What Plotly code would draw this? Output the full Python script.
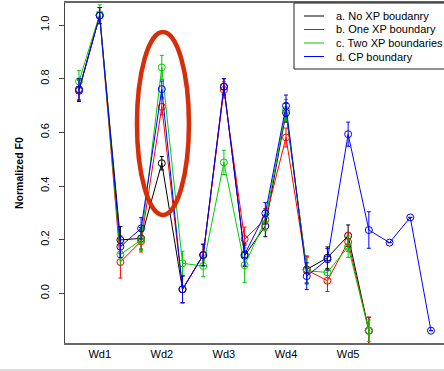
import plotly.graph_objects as go

syll = list(range(1, 19))
word_pos = [2, 5, 8, 11, 14]
word_labels = ["Wd1", "Wd2", "Wd3", "Wd4", "Wd5"]

names = ["a. No XP boudanry", "b. One XP boundary", "c. Two XP boundaries", "d. CP boundary"]
colors = ["#000000", "#ff0000", "#00cd00", "#0000ff"]

no_xp = [0.755, 1.035, 0.199, 0.205, 0.485, 0.015, 0.143, 0.770, 0.140, 0.251, 0.673, 0.089, 0.133, 0.215, -0.139, None, None, None]
no_xp_err = [0.04, 0.03, 0.05, 0.04, 0.025, 0.05, 0.04, 0.03, 0.04, 0.04, 0.035, 0.05, 0.04, 0.04, 0.05, None, None, None]

one_xp = [0.760, 1.035, 0.117, 0.194, 0.695, 0.015, 0.143, 0.758, 0.202, 0.276, 0.581, 0.087, 0.047, 0.192, -0.139, None, None, None]
one_xp_err = [0.04, 0.03, 0.06, 0.04, 0.03, 0.05, 0.04, 0.03, 0.045, 0.04, 0.035, 0.05, 0.04, 0.035, 0.05, None, None, None]

two_xp = [0.790, 1.040, 0.145, 0.199, 0.842, 0.112, 0.102, 0.488, 0.105, 0.273, 0.683, 0.084, 0.078, 0.174, -0.139, None, None, None]
two_xp_err = [0.04, 0.035, 0.04, 0.04, 0.045, 0.045, 0.04, 0.045, 0.065, 0.04, 0.04, 0.05, 0.04, 0.04, 0.04, None, None, None]

cp = [0.760, 1.035, 0.174, 0.242, 0.761, 0.015, 0.143, 0.770, 0.145, 0.298, 0.699, 0.064, 0.127, 0.593, 0.236, 0.189, 0.283, -0.139]
cp_err = [0.04, 0.03, 0.04, 0.04, 0.03, 0.05, 0.04, 0.03, 0.04, 0.04, 0.04, 0.05, 0.04, 0.045, 0.068, None, None, None]

series = [no_xp, one_xp, two_xp, cp]
errors = [no_xp_err, one_xp_err, two_xp_err, cp_err]

W, H = 444, 371
ml, mr, mt, mb = 65, 0, 3, 28
pw = W - ml - mr
ph = H - mt - mb


def px_x(p):
    return (p - ml) / pw


def px_y(p):
    return (H - mb - p) / ph


fig = go.Figure()
for name, col, ys, es in zip(names, colors, series, errors):
    fig.add_trace(go.Scatter(
        x=syll, y=ys, mode="lines+markers", name=name, showlegend=False,
        line=dict(color=col, width=1),
        marker=dict(symbol="circle-open", size=7, color=col, line=dict(width=1, color=col)),
        error_y=dict(type="data", array=es, visible=True, color=col, thickness=1, width=2),
    ))

shapes = [
    dict(type="circle", xref="x", yref="y", x0=3.80, x1=6.31, y0=0.292, y1=0.974,
         line=dict(color="#d62e0a", width=4.5)),
    dict(type="line", xref="paper", yref="paper", x0=px_x(-5), x1=px_x(450),
         y0=px_y(370), y1=px_y(370), line=dict(color="#bbbbbb", width=1)),
    # legend box
    dict(type="rect", xref="paper", yref="paper", x0=px_x(294), x1=px_x(452),
         y0=px_y(69), y1=px_y(3), line=dict(color="#222222", width=1), fillcolor="white", layer="above"),
]
annotations = [
    dict(text="<b>Normalized F0</b>", xref="paper", yref="paper", x=px_x(19), y=0.5,
         textangle=-90, showarrow=False, font=dict(size=10.5), xanchor="center", yanchor="middle"),
]
leg_y = [16, 29.5, 43, 56.5]
for name, col, ly in zip(names, colors, leg_y):
    shapes.append(dict(type="line", xref="paper", yref="paper", x0=px_x(304), x1=px_x(324),
                       y0=px_y(ly), y1=px_y(ly), line=dict(color=col, width=1), layer="above"))
    annotations.append(dict(text=name, xref="paper", yref="paper", x=px_x(334), y=px_y(ly),
                            xanchor="left", yanchor="middle", showarrow=False,
                            font=dict(size=11, color="black")))

fig.update_layout(
    width=W, height=H,
    margin=dict(l=ml, r=mr, t=mt, b=mb, autoexpand=False),
    paper_bgcolor="white", plot_bgcolor="white",
    font=dict(family="Liberation Sans, Arial, sans-serif", size=11, color="black"),
    showlegend=False,
    xaxis=dict(range=[0.324, 18.63], tickvals=word_pos, ticktext=word_labels,
               showgrid=False, zeroline=False, ticks="", showline=True, mirror=True,
               linecolor="#666666", linewidth=1.5, tickfont=dict(size=11)),
    yaxis=dict(range=[-0.185, 1.082], tickvals=[0.0, 0.2, 0.4, 0.6, 0.8, 1.0],
               ticktext=["0.0", "0.2", "0.4", "0.6", "0.8", "1.0"],
               showgrid=False, zeroline=False, ticks="outside", ticklen=5, tickcolor="#444444",
               showline=True, linecolor="#444444", linewidth=1, tickangle=-90,
               ticklabelstandoff=6, tickfont=dict(size=11)),
    shapes=shapes,
    annotations=annotations,
)

fig.write_html("out.html", config={"displayModeBar": False},
               post_script="document.body.style.margin='0';document.body.style.overflow='hidden';")
